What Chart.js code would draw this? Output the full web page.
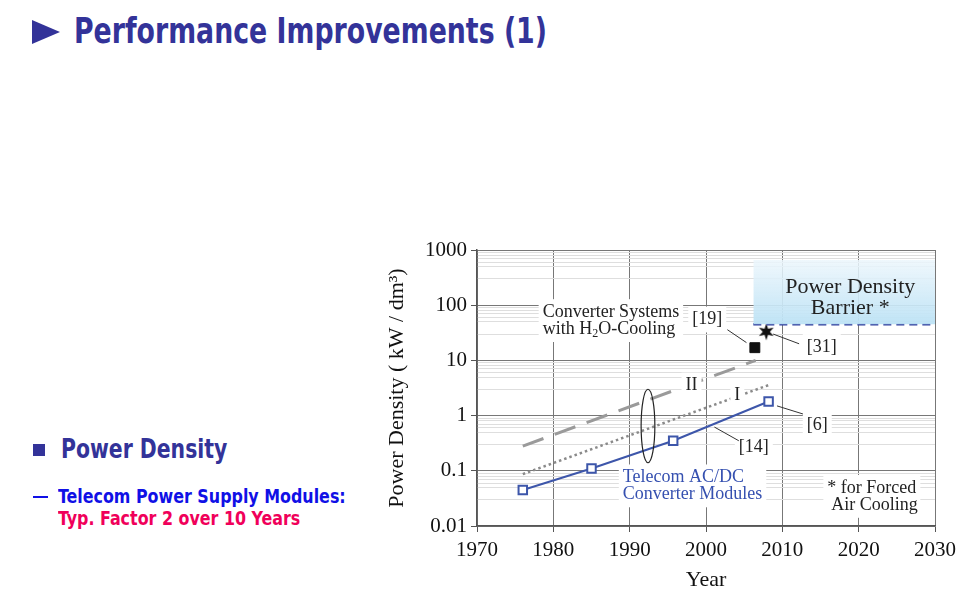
<!DOCTYPE html>
<html>
<head>
<meta charset="utf-8">
<script src="https://cdn.jsdelivr.net/npm/chart.js@4.4.1/dist/chart.umd.min.js"></script>
<style>
  html, body { margin: 0; padding: 0; background: #fff; }
  body { width: 972px; height: 616px; position: relative; overflow: hidden;
         font-family: "Liberation Sans Narrow", "DejaVu Sans Condensed", "DejaVu Sans", sans-serif; font-stretch: condensed; }
  .abs { position: absolute; white-space: nowrap; font-weight: bold; transform-origin: 0 50%; }
  #tri { position: absolute; left: 32px; top: 20px; width: 0; height: 0;
         border-top: 12px solid transparent; border-bottom: 12px solid transparent; border-left: 28px solid #333399; }
  #title { left: 74px; top: 11px; font-size: 35px; color: #333399; transform: scaleX(0.85); }
  #sq { position: absolute; left: 33px; top: 444px; width: 12px; height: 12px; background: #333399; }
  #pd { left: 61px; top: 433px; font-size: 27px; color: #333399; transform: scaleX(0.84); }
  #dash { position: absolute; left: 33px; top: 496px; width: 15px; height: 2px; background: #1010e6; }
  #tel { left: 58px; top: 485px; font-size: 19px; color: #1010e6; transform: scaleX(0.93); }
  #typ { left: 58px; top: 507px; font-size: 19px; color: #f0005a; transform: scaleX(0.93); }
  #c { position: absolute; left: 372px; top: 232px; }
</style>
</head>
<body>
<div id="tri"></div>
<div id="title" class="abs">Performance Improvements (1)</div>
<div id="sq"></div>
<div id="pd" class="abs">Power Density</div>
<div id="dash"></div>
<div id="tel" class="abs">Telecom Power Supply Modules:</div>
<div id="typ" class="abs">Typ. Factor 2 over 10 Years</div>
<canvas id="c" width="600" height="384"></canvas>
<script>
// values
const xTicks = [1970, 1980, 1990, 2000, 2010, 2020, 2030];
const yTickLabels = ['0.01', '0.1', '1', '10', '100', '1000'];
const yMinorSteps = [3, 5, 6, 7, 8, 9];

const telecomYears = [1976, 1985, 1995.7, 2008.2];
const telecomDensity = [0.045, 0.11, 0.35, 1.8];

const trendIIYears = [1976, 2006.5];
const trendIIDensity = [0.28, 10];

const trendIYears = [1976, 2008.5];
const trendIDensity = [0.087, 3.7];

const waterYears = [2006.4];
const waterDensity = [17];

const starYears = [2007.9];
const starDensity = [33];

const barrierYears = [2006.2, 2030];
const barrierDensity = [45, 45];
const barrierTop = [660, 660];

const pts = (xs, ys) => xs.map((x, i) => ({ x: x, y: ys[i] }));

// six pointed star marker
const star = document.createElement('canvas');
star.width = 18; star.height = 18;
(function () {
  const g = star.getContext('2d');
  g.fillStyle = '#111';
  g.beginPath();
  for (let i = 0; i < 12; i++) {
    const r = i % 2 ? 3.6 : 8.5;
    const a = -Math.PI / 2 + i * Math.PI / 6;
    const px = 9 + r * Math.cos(a), py = 9 + r * Math.sin(a);
    i ? g.lineTo(px, py) : g.moveTo(px, py);
  }
  g.closePath();
  g.fill();
})();

const serif = '"Liberation Serif", "Times New Roman", serif';
const isDecade = v => Math.abs(Math.log10(v) - Math.round(Math.log10(v))) < 1e-6;

const notes = {
  id: 'notes',
  afterDatasetsDraw(chart) {
    const c = chart.ctx;
    const X = v => chart.scales.x.getPixelForValue(v);
    const Y = v => chart.scales.y.getPixelForValue(v);

    function label(lines, x, y, opts) {
      opts = opts || {};
      const size = opts.size || 18;
      const lh = opts.lh || size * 0.95;
      c.save();
      c.font = size + 'px ' + serif;
      c.textBaseline = 'middle';
      const widths = lines.map(l => typeof l === 'string' ? c.measureText(l).width : l.w(c));
      const w = Math.max.apply(null, widths);
      let left = X(x);
      if (opts.align === 'center') left -= w / 2;
      const top = Y(y) - size * 0.55;
      const h = lh * (lines.length - 1) + size * 1.1;
      if (!opts.noBg) {
        c.fillStyle = '#fff';
        c.fillRect(left - 4, top - 3, w + 8, h + 6);
      }
      c.fillStyle = opts.color || '#222';
      lines.forEach((l, i) => {
        const ly = Y(y) + i * lh;
        let lx = left;
        if (opts.align === 'center') lx = X(x) - widths[i] / 2;
        if (opts.indent && opts.indent[i]) lx += opts.indent[i];
        if (typeof l === 'string') c.fillText(l, lx, ly);
        else l.draw(c, lx, ly);
      });
      c.restore();
    }

    function leader(x1, y1, x2, y2) {
      c.save();
      c.strokeStyle = '#333';
      c.lineWidth = 1;
      c.beginPath();
      c.moveTo(X(x1), Y(y1));
      c.lineTo(X(x2), Y(y2));
      c.stroke();
      c.restore();
    }

    // "with H2O-Cooling" with a real subscript
    const h2o = {
      w(g) {
        const a = g.measureText('with H').width;
        const save = g.font; g.font = '12px ' + serif;
        const b = g.measureText('2').width; g.font = save;
        return a + b + g.measureText('O-Cooling').width;
      },
      draw(g, x, y) {
        g.fillText('with H', x, y);
        let cx = x + g.measureText('with H').width;
        const save = g.font; g.font = '12px ' + serif;
        g.fillText('2', cx, y + 5);
        cx += g.measureText('2').width; g.font = save;
        g.fillText('O-Cooling', cx, y);
      }
    };

    label(['Converter Systems', h2o], 1978.6, 75, { lh: 17 });
    label(['[19]'], 1998.2, 55);
    leader(2002.8, 36, 2005.3, 21);
    label(['[31]'], 2013.2, 17.5);
    leader(2008.8, 30, 2012.2, 20);
    label(['[6]'], 2013.2, 0.66);
    leader(2009.3, 1.5, 2012.7, 1.07);
    label(['[14]'], 2004.3, 0.27);
    leader(2001.1, 0.62, 2004.3, 0.35);
    label(['II'], 1998.1, 3.5, { align: 'center' });
    label(['I'], 2004.1, 2.3, { align: 'center' });
    label(['Telecom AC/DC', 'Converter Modules'], 1989.1, 0.076, { color: '#3550b0', lh: 17 });
    label(['Power Density', 'Barrier *'], 2018.9, 210, { align: 'center', size: 22, lh: 21, noBg: true });
    label(['* for Forced', 'Air Cooling'], 2015.9, 0.049, { lh: 17, indent: [0, 4] });

    // ellipse around the telecom trend lines
    const cx = X(1992.4), top = Y(3.0), bot = Y(0.14);
    c.save();
    c.strokeStyle = '#222';
    c.lineWidth = 1.2;
    c.beginPath();
    c.ellipse(cx, (top + bot) / 2, X(1993.3) - cx, (bot - top) / 2, 0, 0, Math.PI * 2);
    c.stroke();
    c.restore();
  }
};

new Chart(document.getElementById('c'), {
  type: 'line',
  data: {
    datasets: [
      {
        data: pts(barrierYears, barrierTop),
        borderWidth: 0,
        pointRadius: 0,
        fill: '+1',
        backgroundColor(ctx) {
          const chart = ctx.chart;
          if (!chart.chartArea) return 'rgba(200,230,246,0.8)';
          const y = chart.scales.y;
          const g = chart.ctx.createLinearGradient(0, y.getPixelForValue(660), 0, y.getPixelForValue(45));
          g.addColorStop(0, 'rgba(236,246,252,0.85)');
          g.addColorStop(1, 'rgba(188,226,245,0.95)');
          return g;
        }
      },
      {
        data: pts(barrierYears, barrierDensity),
        borderColor: '#2d3c9c',
        borderWidth: 2.5,
        borderDash: [8, 5],
        pointRadius: 0
      },
      {
        data: pts(trendIIYears, trendIIDensity),
        borderColor: '#9a9a9a',
        borderWidth: 3,
        borderDash: [22, 12],
        pointRadius: 0
      },
      {
        data: pts(trendIYears, trendIDensity),
        borderColor: '#8a8a8a',
        borderWidth: 2.5,
        borderDash: [2.5, 3],
        pointRadius: 0
      },
      {
        data: pts(telecomYears, telecomDensity),
        borderColor: '#3d56aa',
        borderWidth: 2,
        pointStyle: 'rect',
        pointRadius: 6,
        pointBackgroundColor: '#fff',
        pointBorderColor: '#3d56aa',
        pointBorderWidth: 2
      },
      {
        data: pts(waterYears, waterDensity),
        showLine: false,
        pointStyle: 'rect',
        pointRadius: 7,
        pointBackgroundColor: '#111',
        pointBorderColor: '#111'
      },
      {
        data: pts(starYears, starDensity),
        showLine: false,
        pointStyle: star
      }
    ]
  },
  options: {
    responsive: false,
    animation: false,
    layout: { padding: { left: 8, top: 18, right: 37, bottom: 20 } },
    plugins: { legend: { display: false }, tooltip: { enabled: false } },
    scales: {
      x: {
        type: 'linear',
        min: 1970,
        max: 2030,
        afterBuildTicks(scale) { scale.ticks = xTicks.map(v => ({ value: v })); },
        afterFit(scale) { scale.height = 70; },
        ticks: { callback: v => String(v), font: { family: serif, size: 21 }, color: '#111', padding: 6 },
        grid: { color: '#777', tickLength: 6, tickColor: '#555' },
        border: { color: '#555', width: 1.5 },
        title: { display: true, text: 'Year', font: { family: serif, size: 22 }, color: '#111', padding: { top: 0, bottom: 3 } }
      },
      y: {
        type: 'logarithmic',
        min: 0.01,
        max: 1000,
        afterBuildTicks(scale) {
          const t = [];
          for (let e = -2; e <= 3; e++) {
            t.push({ value: Math.pow(10, e) });
            if (e < 3) yMinorSteps.forEach(m => t.push({ value: m * Math.pow(10, e) }));
          }
          scale.ticks = t;
        },
        afterFit(scale) { scale.width = 97; },
        ticks: {
          autoSkip: false,
          callback: v => isDecade(v) ? yTickLabels[Math.round(Math.log10(v)) + 2] : '',
          font: { family: serif, size: 21 },
          color: '#111',
          padding: 4
        },
        grid: {
          color: ctx => ctx.tick && isDecade(ctx.tick.value) ? '#777' : '#dedede',
          tickLength: 6,
          tickColor: ctx => ctx.tick && isDecade(ctx.tick.value) ? '#555' : 'rgba(0,0,0,0)'
        },
        border: { color: '#555', width: 1.5 },
        title: { display: true, text: 'Power Density ( kW / dm³)', font: { family: serif, size: 22 }, color: '#111', padding: { top: 4, bottom: 0 } }
      }
    }
  },
  plugins: [notes]
});
</script>
</body>
</html>
